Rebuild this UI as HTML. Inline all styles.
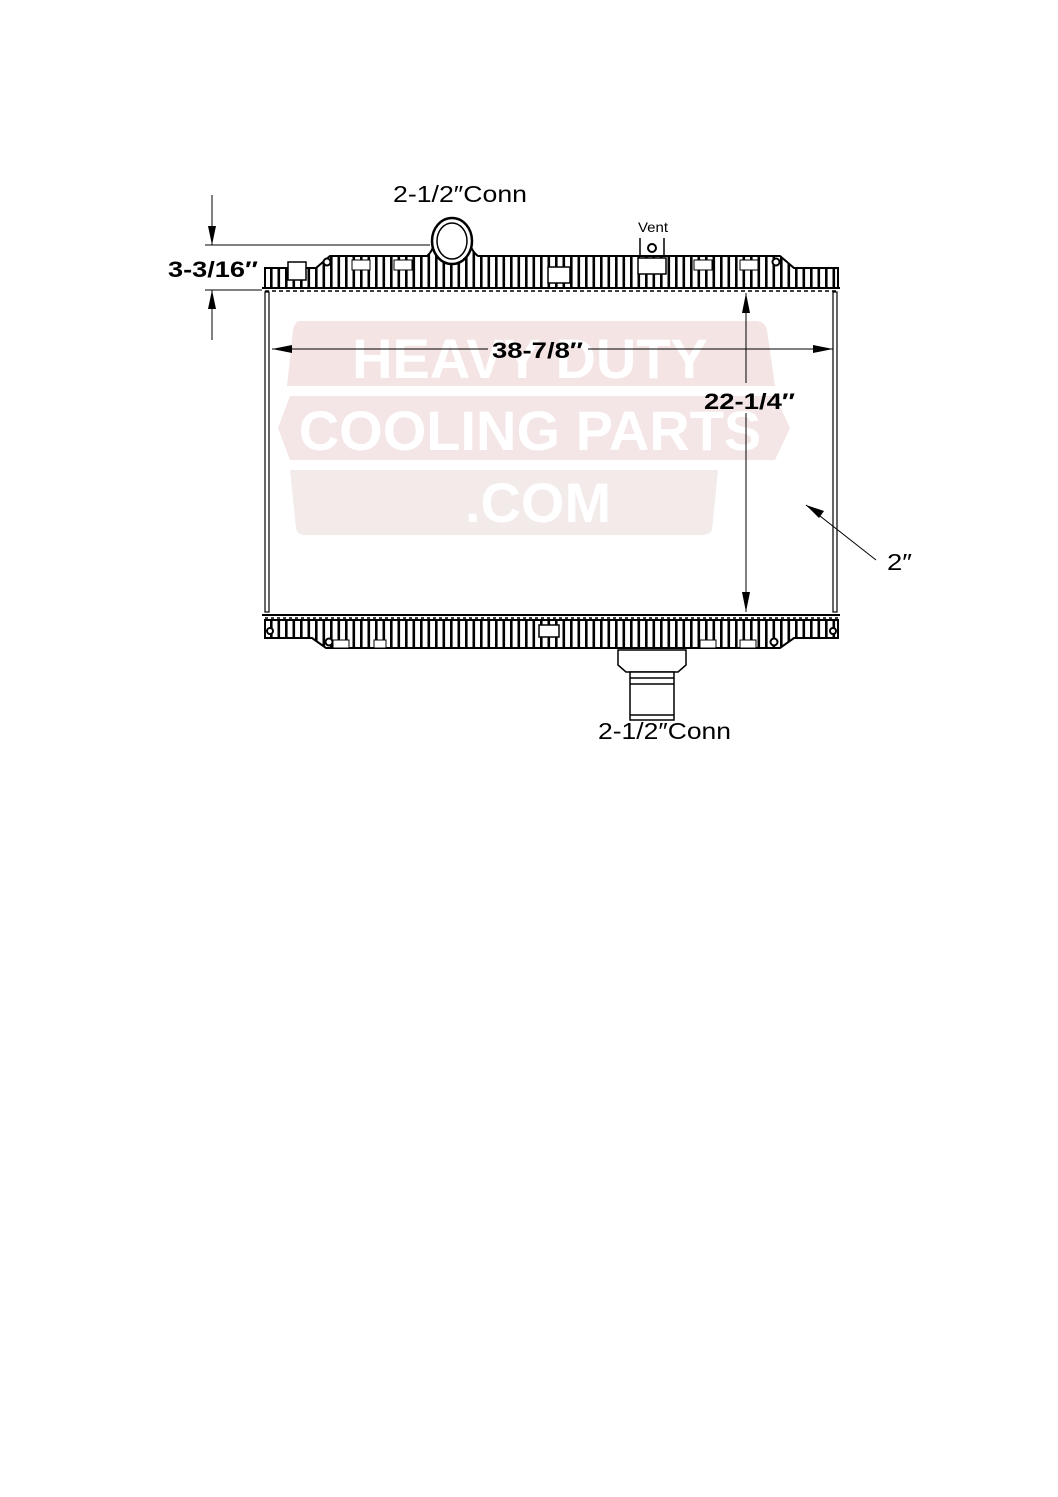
<!DOCTYPE html>
<html><head><meta charset="utf-8"><style>
html,body{margin:0;padding:0;background:#fff}
svg{display:block}
text{font-family:"Liberation Sans",sans-serif}
</style></head><body>
<svg width="1058" height="1497" viewBox="0 0 1058 1497" xmlns="http://www.w3.org/2000/svg">
<defs>
<pattern id="fins" x="0" y="0" width="7.5" height="10" patternUnits="userSpaceOnUse">
<rect x="0" y="0" width="2.6" height="10" fill="#000"/>
</pattern>
</defs>
<!-- watermark -->
<g>
<path d="M300 321 H755 Q765 321 767 330 L775 386 H287 L293 330 Q295 321 300 321Z" fill="#f4e4e4"/>
<path d="M290 396 H775 L790 428 L775 460 H290 L278 428Z" fill="#f4e6e6"/>
<path d="M290 470 H718 L712 530 Q710 535 700 535 H305 Q297 535 296 528Z" fill="#f3eaea"/>
<g fill="#fff" font-weight="bold" font-size="56" text-anchor="middle">
<text x="530" y="378">HEAVY DUTY</text>
<text x="530" y="450">COOLING PARTS</text>
<text x="538" y="522">.COM</text>
</g>
</g>
<!-- top tank -->
<path d="M265 288 V268 H316 L330 256 H427 Q434 250 434 240 L470 240 Q470 250 478 256 H780 L794 268 H838 V288Z" fill="url(#fins)" stroke="#000" stroke-width="2"/>
<rect x="288" y="262" width="18" height="18" fill="#fff" stroke="#000" stroke-width="1.5"/>
<rect x="548" y="267" width="22" height="16" fill="#fff" stroke="#000" stroke-width="1.5"/>
<rect x="638" y="258" width="28" height="16" fill="#fff" stroke="#000" stroke-width="1.5"/>
<rect x="352" y="260" width="18" height="10" fill="#fff" stroke="#000"/>
<rect x="394" y="260" width="18" height="10" fill="#fff" stroke="#000"/>
<rect x="694" y="260" width="18" height="10" fill="#fff" stroke="#000"/>
<rect x="740" y="260" width="18" height="10" fill="#fff" stroke="#000"/>
<ellipse cx="452" cy="241" rx="20" ry="23" fill="#fff" stroke="#000" stroke-width="2.5"/>
<ellipse cx="452" cy="241" rx="15" ry="18" fill="#fff" stroke="#000" stroke-width="1.5"/>
<circle cx="327" cy="262" r="3.5" fill="#fff" stroke="#000" stroke-width="2"/>
<circle cx="776" cy="262" r="3.5" fill="#fff" stroke="#000" stroke-width="2"/>
<circle cx="652" cy="248" r="4" fill="#fff" stroke="#000" stroke-width="2"/>
<path d="M640 238 V256 M664 238 V256" stroke="#000" stroke-width="1.5"/>
<line x1="262" y1="288" x2="840" y2="288" stroke="#000" stroke-width="2"/>
<line x1="265" y1="291" x2="838" y2="291" stroke="#000" stroke-width="1.5" stroke-dasharray="4 3"/>
<!-- core sides -->
<rect x="265" y="292" width="4" height="320" fill="none" stroke="#000" stroke-width="1.2"/>
<rect x="833" y="292" width="4" height="320" fill="none" stroke="#000" stroke-width="1.2"/>
<!-- bottom tank -->
<line x1="262" y1="615" x2="840" y2="615" stroke="#000" stroke-width="2"/>
<line x1="265" y1="618" x2="838" y2="618" stroke="#000" stroke-width="1.5" stroke-dasharray="3 3"/>
<path d="M265 620 V638 H312 L326 648 H780 L794 638 H838 V620Z" fill="url(#fins)" stroke="#000" stroke-width="2"/>
<rect x="539" y="625" width="20" height="12" fill="#fff" stroke="#000" stroke-width="1.5"/>
<rect x="333" y="640" width="16" height="8" fill="#fff" stroke="#000"/>
<rect x="374" y="640" width="12" height="8" fill="#fff" stroke="#000"/>
<rect x="700" y="640" width="16" height="8" fill="#fff" stroke="#000"/>
<rect x="740" y="640" width="16" height="8" fill="#fff" stroke="#000"/>
<circle cx="270" cy="631" r="3" fill="#fff" stroke="#000" stroke-width="2"/>
<circle cx="833" cy="631" r="3" fill="#fff" stroke="#000" stroke-width="2"/>
<circle cx="329" cy="642" r="3.5" fill="#fff" stroke="#000" stroke-width="2"/>
<circle cx="774" cy="642" r="3.5" fill="#fff" stroke="#000" stroke-width="2"/>
<!-- bottom pipe -->
<path d="M618 650 H686 V665 L678 672 H626 L618 665Z" fill="#fff" stroke="#000" stroke-width="1.5"/>
<rect x="630" y="672" width="44" height="48" fill="#fff" stroke="#000" stroke-width="1.5"/>
<line x1="630" y1="678" x2="674" y2="678" stroke="#000" stroke-width="1.5"/>
<line x1="630" y1="684" x2="674" y2="684" stroke="#000" stroke-width="1.5"/>
<line x1="630" y1="715" x2="674" y2="715" stroke="#000" stroke-width="1.5"/>
<!-- dimensions -->
<g stroke="#000" stroke-width="1">
<line x1="212" y1="195" x2="212" y2="245"/>
<line x1="212" y1="290" x2="212" y2="340"/>
<line x1="205" y1="245" x2="430" y2="245"/>
<line x1="205" y1="290" x2="262" y2="290"/>
<line x1="272" y1="349" x2="488" y2="349"/>
<line x1="588" y1="349" x2="833" y2="349"/>
<line x1="746" y1="293" x2="746" y2="383"/>
<line x1="746" y1="413" x2="746" y2="612"/>
<line x1="806" y1="505" x2="876" y2="560"/>
</g>
<g fill="#000">
<path d="M208 226 L216 226 L212 245Z"/>
<path d="M208 309 L216 309 L212 290Z"/>
<path d="M272 349 L292 345 L292 353Z"/>
<path d="M833 349 L813 345 L813 353Z"/>
<path d="M746 293 L742 313 L750 313Z"/>
<path d="M746 612 L742 592 L750 592Z"/>
<path d="M806 505 L824 511 L819 518Z"/>
</g>
<g font-size="23" fill="#000">
<text x="393" y="202" textLength="134" lengthAdjust="spacingAndGlyphs">2-1/2″Conn</text>
<text x="598" y="739" textLength="133" lengthAdjust="spacingAndGlyphs">2-1/2″Conn</text>
<text x="887" y="570" textLength="25" lengthAdjust="spacingAndGlyphs">2″</text>
<text x="638" y="232" font-size="14" textLength="30" lengthAdjust="spacingAndGlyphs">Vent</text>
</g>
<g font-size="22" font-weight="bold" fill="#000">
<text x="168" y="277" textLength="90" lengthAdjust="spacingAndGlyphs">3-3/16″</text>
<text x="492" y="358" textLength="91" lengthAdjust="spacingAndGlyphs">38-7/8″</text>
<text x="704" y="409" textLength="91" lengthAdjust="spacingAndGlyphs">22-1/4″</text>
</g>
</svg>
</body></html>
